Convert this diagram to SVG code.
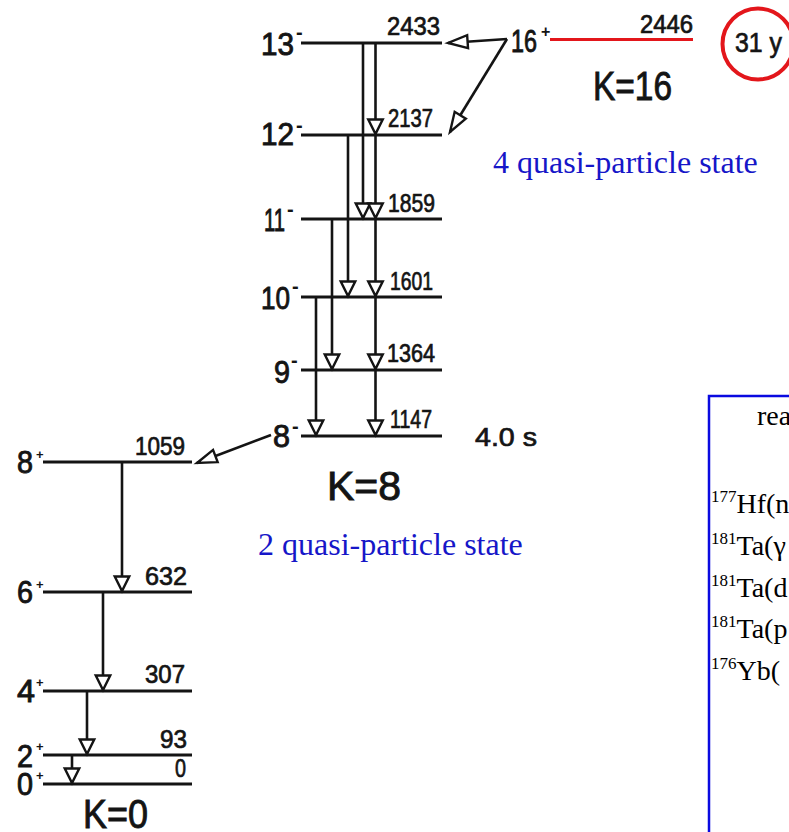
<svg xmlns="http://www.w3.org/2000/svg" width="789" height="832" viewBox="0 0 789 832">
<style>
.lv{stroke:#141414;stroke-width:3;fill:none}
.tr{stroke:#141414;stroke-width:2.6;fill:none;marker-end:url(#ah)}
.trl{stroke:#141414;stroke-width:2.6;fill:none;marker-end:url(#ahl)}
.st{font-family:"Liberation Sans",Arial,sans-serif;font-size:31px;fill:#141414;stroke:#141414;stroke-width:0.9}
.sg{font-family:"Liberation Sans",Arial,sans-serif;font-size:20px;font-weight:bold;fill:#141414}
.pl{font-family:"Liberation Sans",Arial,sans-serif;font-size:13px;font-weight:bold;fill:#141414}
.en{font-family:"Liberation Sans",Arial,sans-serif;font-size:25px;fill:#141414;stroke:#141414;stroke-width:0.7}
.k{font-family:"Liberation Sans",Arial,sans-serif;font-size:40px;fill:#141414;stroke:#141414;stroke-width:0.9}
.bl{font-family:"Liberation Serif","Times New Roman",serif;font-size:32px;fill:#1616c8}
.bx{font-family:"Liberation Serif","Times New Roman",serif;font-size:28px;fill:#000}
.sup{font-size:17px}
</style>
<defs>
<marker id="ah" markerUnits="userSpaceOnUse" markerWidth="20" markerHeight="20" viewBox="-2 -9 18 18" refX="13" refY="0" orient="auto" overflow="visible">
<path d="M0,-6.5 L13,0 L0,6.5 Z" fill="#fff" stroke="#141414" stroke-width="2.2" stroke-linejoin="miter"/>
</marker>
<marker id="ahl" markerUnits="userSpaceOnUse" markerWidth="24" markerHeight="20" viewBox="-2 -9 22 18" refX="18" refY="0" orient="auto" overflow="visible">
<path d="M0,-6 L18,0 L0,6 Z" fill="#fff" stroke="#141414" stroke-width="2.2"/>
</marker>
</defs>

<g id="connectors">
<line class="tr" x1="375.5" y1="43" x2="375.5" y2="134"/>
<line class="tr" x1="363" y1="43" x2="363" y2="218"/>
<line class="tr" x1="375.5" y1="135" x2="375.5" y2="218"/>
<line class="tr" x1="348" y1="135" x2="348" y2="296"/>
<line class="tr" x1="375.5" y1="219" x2="375.5" y2="296"/>
<line class="tr" x1="332" y1="219" x2="332" y2="369"/>
<line class="tr" x1="375.5" y1="297" x2="375.5" y2="369"/>
<line class="tr" x1="316" y1="297" x2="316" y2="435"/>
<line class="tr" x1="375.5" y1="370" x2="375.5" y2="435"/>
<line class="tr" x1="122" y1="462" x2="122" y2="591"/>
<line class="tr" x1="103" y1="592" x2="103" y2="690"/>
<line class="tr" x1="87" y1="691" x2="87" y2="754"/>
<line class="tr" x1="72" y1="755" x2="72" y2="783"/>
<line class="trl" x1="507" y1="39" x2="448" y2="43"/>
<line class="trl" x1="507" y1="39" x2="450" y2="132"/>
<line class="trl" x1="271" y1="435" x2="197" y2="463"/>
</g>

<g id="L16">
<line x1="550" y1="39.5" x2="693" y2="39.5" stroke="#e3161b" stroke-width="3"/>
<text class="st" x="511" y="52" textLength="26" lengthAdjust="spacingAndGlyphs">16</text>
<text class="pl" x="541" y="37" style="font-size:16px">+</text>
<text class="en" x="640" y="33" textLength="53" lengthAdjust="spacingAndGlyphs">2446</text>
</g>
<g id="halflife16">
<circle cx="758" cy="44" r="35.5" fill="none" stroke="#e3161b" stroke-width="4"/>
<text class="en" x="735" y="52" style="font-size:28px" textLength="47" lengthAdjust="spacingAndGlyphs">31 y</text>
</g>
<g id="K16"><text class="k" x="593" y="100" textLength="79" lengthAdjust="spacingAndGlyphs">K=16</text></g>
<g id="label4qp"><text class="bl" x="493" y="173">4 quasi-particle state</text></g>

<g id="L13">
<line class="lv" x1="301" y1="43" x2="442" y2="43"/>
<text class="st" x="261" y="55" textLength="33" lengthAdjust="spacingAndGlyphs">13</text>
<text class="sg" x="296" y="39">-</text>
<text class="en" x="387" y="35" textLength="53" lengthAdjust="spacingAndGlyphs">2433</text>
</g>
<g id="L12">
<line class="lv" x1="301" y1="135" x2="442" y2="135"/>
<text class="st" x="261" y="145" textLength="33" lengthAdjust="spacingAndGlyphs">12</text>
<text class="sg" x="296" y="132">-</text>
<text class="en" x="388" y="127" textLength="45" lengthAdjust="spacingAndGlyphs">2137</text>
</g>
<g id="L11">
<line class="lv" x1="301" y1="219" x2="442" y2="219"/>
<text class="st" x="264" y="231" textLength="21" lengthAdjust="spacingAndGlyphs">11</text>
<text class="sg" x="287" y="216">-</text>
<text class="en" x="388" y="212" textLength="47" lengthAdjust="spacingAndGlyphs">1859</text>
</g>
<g id="L10">
<line class="lv" x1="301" y1="297" x2="442" y2="297"/>
<text class="st" x="261" y="309" textLength="29" lengthAdjust="spacingAndGlyphs">10</text>
<text class="sg" x="292" y="293">-</text>
<text class="en" x="390" y="290" textLength="43" lengthAdjust="spacingAndGlyphs">1601</text>
</g>
<g id="L9">
<line class="lv" x1="301" y1="370" x2="442" y2="370"/>
<text class="st" x="274" y="383" textLength="16" lengthAdjust="spacingAndGlyphs">9</text>
<text class="sg" x="291" y="367">-</text>
<text class="en" x="387" y="362" textLength="48" lengthAdjust="spacingAndGlyphs">1364</text>
</g>
<g id="L8m">
<line class="lv" x1="301" y1="436" x2="442" y2="436"/>
<text class="st" x="273" y="447" textLength="17" lengthAdjust="spacingAndGlyphs">8</text>
<text class="sg" x="292" y="433">-</text>
<text class="en" x="390" y="428" textLength="42" lengthAdjust="spacingAndGlyphs">1147</text>
<text class="en" x="475" y="446" style="font-size:26px" textLength="62" lengthAdjust="spacingAndGlyphs">4.0 s</text>
</g>
<g id="K8"><text class="k" x="327" y="500" textLength="74" lengthAdjust="spacingAndGlyphs">K=8</text></g>
<g id="label2qp"><text class="bl" x="258" y="555">2 quasi-particle state</text></g>

<g id="L8p">
<line class="lv" x1="43" y1="462" x2="192" y2="462"/>
<text class="st" x="17" y="473" textLength="16" lengthAdjust="spacingAndGlyphs">8</text>
<text class="pl" x="36" y="459">+</text>
<text class="en" x="135" y="455" textLength="50" lengthAdjust="spacingAndGlyphs">1059</text>
</g>
<g id="L6p">
<line class="lv" x1="43" y1="592" x2="192" y2="592"/>
<text class="st" x="17" y="603" textLength="16" lengthAdjust="spacingAndGlyphs">6</text>
<text class="pl" x="36" y="589">+</text>
<text class="en" x="145" y="585" textLength="42" lengthAdjust="spacingAndGlyphs">632</text>
</g>
<g id="L4p">
<line class="lv" x1="43" y1="691" x2="192" y2="691"/>
<text class="st" x="17" y="702" textLength="18" lengthAdjust="spacingAndGlyphs">4</text>
<text class="pl" x="36" y="687">+</text>
<text class="en" x="145" y="683" textLength="40" lengthAdjust="spacingAndGlyphs">307</text>
</g>
<g id="L2p">
<line class="lv" x1="43" y1="755" x2="192" y2="755"/>
<text class="st" x="17" y="767" textLength="16" lengthAdjust="spacingAndGlyphs">2</text>
<text class="pl" x="36" y="751">+</text>
<text class="en" x="160" y="748" textLength="27" lengthAdjust="spacingAndGlyphs">93</text>
</g>
<g id="L0p">
<line class="lv" x1="43" y1="784" x2="192" y2="784"/>
<text class="st" x="17" y="795" textLength="16" lengthAdjust="spacingAndGlyphs">0</text>
<text class="pl" x="36" y="780">+</text>
<text class="en" x="175" y="777" textLength="11" lengthAdjust="spacingAndGlyphs">0</text>
</g>
<g id="K0"><text class="k" x="83" y="828" textLength="65" lengthAdjust="spacingAndGlyphs">K=0</text></g>

<g id="reactions">
<rect x="709" y="396" width="200" height="500" fill="none" stroke="#0a0ae0" stroke-width="2.5"/>
<text class="bx" x="757" y="425">rea</text>
<text class="bx" x="711" y="513"><tspan class="sup" dy="-11">177</tspan><tspan dy="11">Hf(n</tspan></text>
<text class="bx" x="711" y="555"><tspan class="sup" dy="-11">181</tspan><tspan dy="11">Ta(γ</tspan></text>
<text class="bx" x="711" y="597"><tspan class="sup" dy="-11">181</tspan><tspan dy="11">Ta(d</tspan></text>
<text class="bx" x="711" y="638"><tspan class="sup" dy="-11">181</tspan><tspan dy="11">Ta(p</tspan></text>
<text class="bx" x="711" y="680"><tspan class="sup" dy="-11">176</tspan><tspan dy="11">Yb(</tspan></text>
</g>
</svg>
